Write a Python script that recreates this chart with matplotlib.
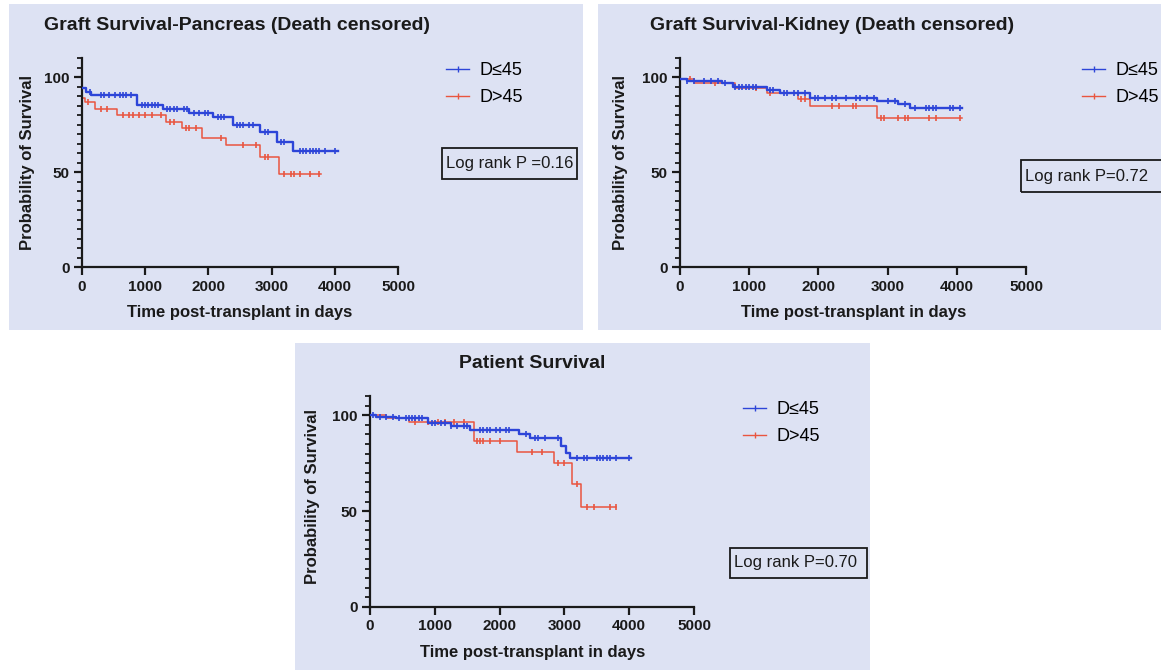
import matplotlib
matplotlib.use('Agg')
import matplotlib.pyplot as plt
from matplotlib.lines import Line2D
from matplotlib.patches import Rectangle
from matplotlib.ticker import MultipleLocator
import numpy as np

plt.rcParams['font.family'] = ['Liberation Sans', 'DejaVu Sans']

W, H = 1161, 670
BG = '#dde2f3'
BLUE = '#2d45d8'
RED = '#e9553f'

titles = ['Graft Survival-Pancreas (Death censored)',
          'Graft Survival-Kidney (Death censored)',
          'Patient Survival']
p_texts = ['Log rank P =0.16', 'Log rank P=0.72', 'Log rank P=0.70']
group_labels = ['D\u226445', 'D>45']
x_ticks = [0, 1000, 2000, 3000, 4000, 5000]
y_ticks = [0, 50, 100]

# Graft survival - pancreas
panc_blue_t = [0, 60, 150, 870, 1280, 1700, 2070, 2390, 2820, 3080, 3340, 4050]
panc_blue_s = [94, 92, 90.5, 85.5, 83, 81, 79, 75, 71, 66, 61, 61]
panc_blue_c = [120, 300, 350, 420, 520, 600, 650, 700, 780, 950, 1000, 1050, 1100,
               1150, 1200, 1350, 1400, 1450, 1500, 1620, 1660, 1780, 1850, 1950,
               2000, 2150, 2200, 2250, 2450, 2500, 2550, 2650, 2700, 2900, 2950,
               3150, 3200, 3450, 3500, 3550, 3600, 3650, 3700, 3750, 3850, 4000]
panc_red_t = [0, 40, 200, 550, 1330, 1580, 1900, 2280, 2820, 3110, 3780]
panc_red_s = [89, 87, 83, 80, 76.5, 73, 68, 64, 58, 49, 49]
panc_red_c = [100, 300, 400, 650, 750, 800, 900, 1000, 1100, 1250, 1400, 1450,
              1650, 1700, 1800, 2200, 2550, 2750, 2900, 2950, 3200, 3300, 3350,
              3450, 3600, 3750]

# Graft survival - kidney
kid_blue_t = [0, 100, 600, 760, 1250, 1440, 1880, 2840, 3150, 3320, 4070]
kid_blue_s = [99, 98, 97, 95, 93, 91.5, 89, 87.5, 86, 83.5, 83.5]
kid_blue_c = [100, 200, 350, 450, 550, 650, 800, 850, 900, 950, 1000, 1050, 1100,
              1300, 1350, 1500, 1550, 1650, 1700, 1800, 1950, 2000, 2100, 2200,
              2250, 2400, 2550, 2600, 2700, 2800, 3000, 3100, 3250, 3400, 3550,
              3600, 3650, 3700, 3900, 3950, 4050]
kid_red_t = [0, 200, 800, 1250, 1700, 1880, 2840, 4070]
kid_red_s = [99, 97, 94, 91.5, 88.5, 84.5, 78.5, 78.5]
kid_red_c = [150, 500, 1100, 1300, 1750, 1800, 2200, 2300, 2500, 2550, 2900,
             2950, 3150, 3250, 3300, 3600, 3700, 4050]

# Patient survival
pat_blue_t = [0, 100, 400, 900, 1250, 1550, 2300, 2470, 2940, 3020, 3090, 4030]
pat_blue_s = [100, 99.3, 98.3, 96, 94.5, 92.5, 90, 88, 84, 80.5, 77.5, 77.5]
pat_blue_c = [50, 150, 250, 350, 450, 550, 600, 650, 700, 750, 800, 950, 1000,
              1100, 1150, 1250, 1350, 1450, 1500, 1700, 1750, 1800, 1850, 1950,
              2000, 2100, 2150, 2400, 2550, 2600, 2700, 2900, 3200, 3300, 3350,
              3500, 3550, 3600, 3650, 3700, 3800, 4000]
pat_red_t = [0, 250, 600, 1600, 2270, 2840, 3120, 3250, 3800]
pat_red_s = [100, 98.5, 96.5, 86.5, 81, 75, 64, 52, 52]
pat_red_c = [700, 900, 1050, 1150, 1300, 1450, 1650, 1700, 1750, 1850, 2000,
             2500, 2650, 2900, 3000, 3200, 3350, 3450, 3700, 3800]

curves = [
    [(panc_blue_t, panc_blue_s, panc_blue_c), (panc_red_t, panc_red_s, panc_red_c)],
    [(kid_blue_t, kid_blue_s, kid_blue_c), (kid_red_t, kid_red_s, kid_red_c)],
    [(pat_blue_t, pat_blue_s, pat_blue_c), (pat_red_t, pat_red_s, pat_red_c)],
]

# layout in pixels (left, top, right, bottom)
layout = [
    dict(bg=(9, 4, 583, 330), ax=(82, 58, 398, 267), title=(44, 25, 'left'),
         ylab=(28, 163), xlab=(240, 313), leg=(446, 62), box=(442, 148, 577, 179)),
    dict(bg=(598, 4, 1161, 330), ax=(680, 58, 1026, 267), title=(650, 25, 'left'),
         ylab=(621, 163), xlab=(854, 313), leg=(1082, 62), box=(1021, 160, 1175, 192)),
    dict(bg=(295, 343, 870, 670), ax=(370, 396, 694, 607), title=(532, 363, 'center'),
         ylab=(313, 497), xlab=(533, 653), leg=(743, 401), box=(730, 548, 867, 578)),
]


def fx(px):
    return px / W


def fy(py):
    return 1 - py / H


fig = plt.figure(figsize=(W / 100, H / 100), dpi=100)
fig.patch.set_facecolor('white')

for i, lay in enumerate(layout):
    l, t, r, b = lay['bg']
    fig.add_artist(Rectangle((fx(l), fy(b)), (r - l) / W, (b - t) / H,
                             transform=fig.transFigure, facecolor=BG,
                             edgecolor='none', zorder=-5))
    l, t, r, b = lay['ax']
    ax = fig.add_axes([fx(l), fy(b), (r - l) / W, (b - t) / H])
    ax.set_facecolor('none')

    for (tt, ss, cc), col, lw in zip(curves[i], [BLUE, RED], [1.7, 1.1]):
        z = 3 if col == BLUE else 2
        ax.step(tt, ss, where='post', color=col, lw=lw, zorder=z)
        idx = np.searchsorted(tt, cc, side='right') - 1
        cy = np.array(ss)[idx]
        ax.plot(cc, cy, ls='none', marker='|', markersize=5, mew=1.2, color=col,
                zorder=z)

    ax.set_xlim(0, 5000)
    ax.set_ylim(0, 110)
    ax.set_xticks(x_ticks)
    ax.set_yticks(y_ticks)
    ax.yaxis.set_minor_locator(MultipleLocator(5))
    for s in ['top', 'right']:
        ax.spines[s].set_visible(False)
    for s in ['left', 'bottom']:
        ax.spines[s].set_linewidth(1.6)
        ax.spines[s].set_color('#1a1a1a')
    ax.tick_params(which='major', length=6, width=1.6, color='#1a1a1a',
                   labelsize=11, pad=3)
    ax.tick_params(which='minor', length=3.5, width=1.3, color='#1a1a1a')
    ax.tick_params(axis='x', which='minor', bottom=False)
    for lab in ax.get_xticklabels() + ax.get_yticklabels():
        lab.set_fontweight('bold')
        lab.set_color('#1a1a1a')

    tx, ty, ha = lay['title']
    fig.text(fx(tx), fy(ty), titles[i], ha=ha, va='center', fontsize=14,
             fontweight='bold', color='#1a1a1a')
    fig.text(fx(lay['ylab'][0]), fy(lay['ylab'][1]), 'Probability of Survival',
             rotation=90, ha='center', va='center', fontsize=12,
             fontweight='bold', color='#1a1a1a')
    fig.text(fx(lay['xlab'][0]), fy(lay['xlab'][1]), 'Time post-transplant in days',
             ha='center', va='center', fontsize=12, fontweight='bold',
             color='#1a1a1a')

    handles = [Line2D([], [], color=BLUE, lw=1, marker='|', markersize=4),
               Line2D([], [], color=RED, lw=1, marker='|', markersize=4)]
    ax.legend(handles, group_labels, loc='upper left',
              bbox_to_anchor=(fx(lay['leg'][0]), fy(lay['leg'][1])),
              bbox_transform=fig.transFigure, frameon=False, fontsize=13,
              handlelength=1.3, handletextpad=0.55, labelspacing=0.55,
              borderpad=0, borderaxespad=0)

    l, t, r, b = lay['box']
    fig.add_artist(Rectangle((fx(l), fy(b)), (r - l) / W, (b - t) / H,
                             transform=fig.transFigure, facecolor='none',
                             edgecolor='#1a1a1a', lw=1.3, zorder=5))
    fig.text(fx(l + 4), fy((t + b) / 2), p_texts[i], ha='left', va='center',
             fontsize=12, color='#1a1a1a')

fig.savefig('out.png', dpi=100, facecolor='white')
